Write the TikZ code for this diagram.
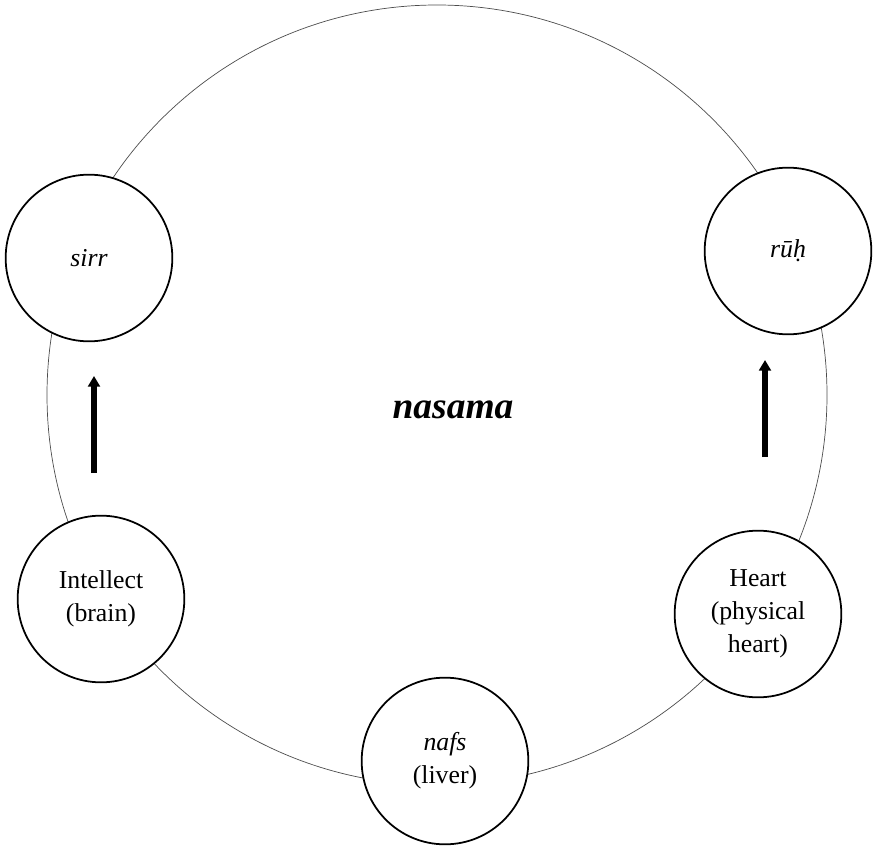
\documentclass[tikz,border=0pt]{standalone}
\usepackage{tikz}
\usepackage{fontspec}
\setmainfont{Liberation Serif}
\usetikzlibrary{automata,positioning,arrows.meta}

\begin{document}
\begin{tikzpicture}[x=0.03cm,y=-0.03cm,>={Triangle[length=9pt,width=10pt]},semithick]
		\tikzstyle{every state}=[draw=black,line width=1.5pt,fill=white,text=black,minimum size=5cm,align=center,font=\fontsize{22}{28}\selectfont]
		\useasboundingbox (0,0) rectangle (874,849);
		\draw[black!70,line width=0.6pt] (437,395) circle[radius=390];
		\node		    (nasama) at (453,410)   {\fontsize{32}{36}\selectfont\textbf{\textit{nasama}}};
		\node[state]    (sirr) at (89,258)      {\textit{sirr}};
		\node[state]    (ruh) at (788,251)      {\textit{rūḥ}};
		\node[state]    (intellect) at (101,599) {Intellect\\(brain)};
		\node[state]    (heart) at (758,614)    {Heart\\(physical\\heart)};
		\node[state]    (nafs) at (445,761)     {\textit{nafs}\\(liver)};
		\coordinate (intellectup) at (94,473);
		\coordinate (sirrdown) at (94,376);
		\coordinate (heartup) at (765,457);
		\coordinate (ruhdown) at (765,360);
		\path[->,line width=5.5pt]
		(intellectup) edge (sirrdown)
		(heartup) edge (ruhdown);
	\end{tikzpicture}
\end{document}
